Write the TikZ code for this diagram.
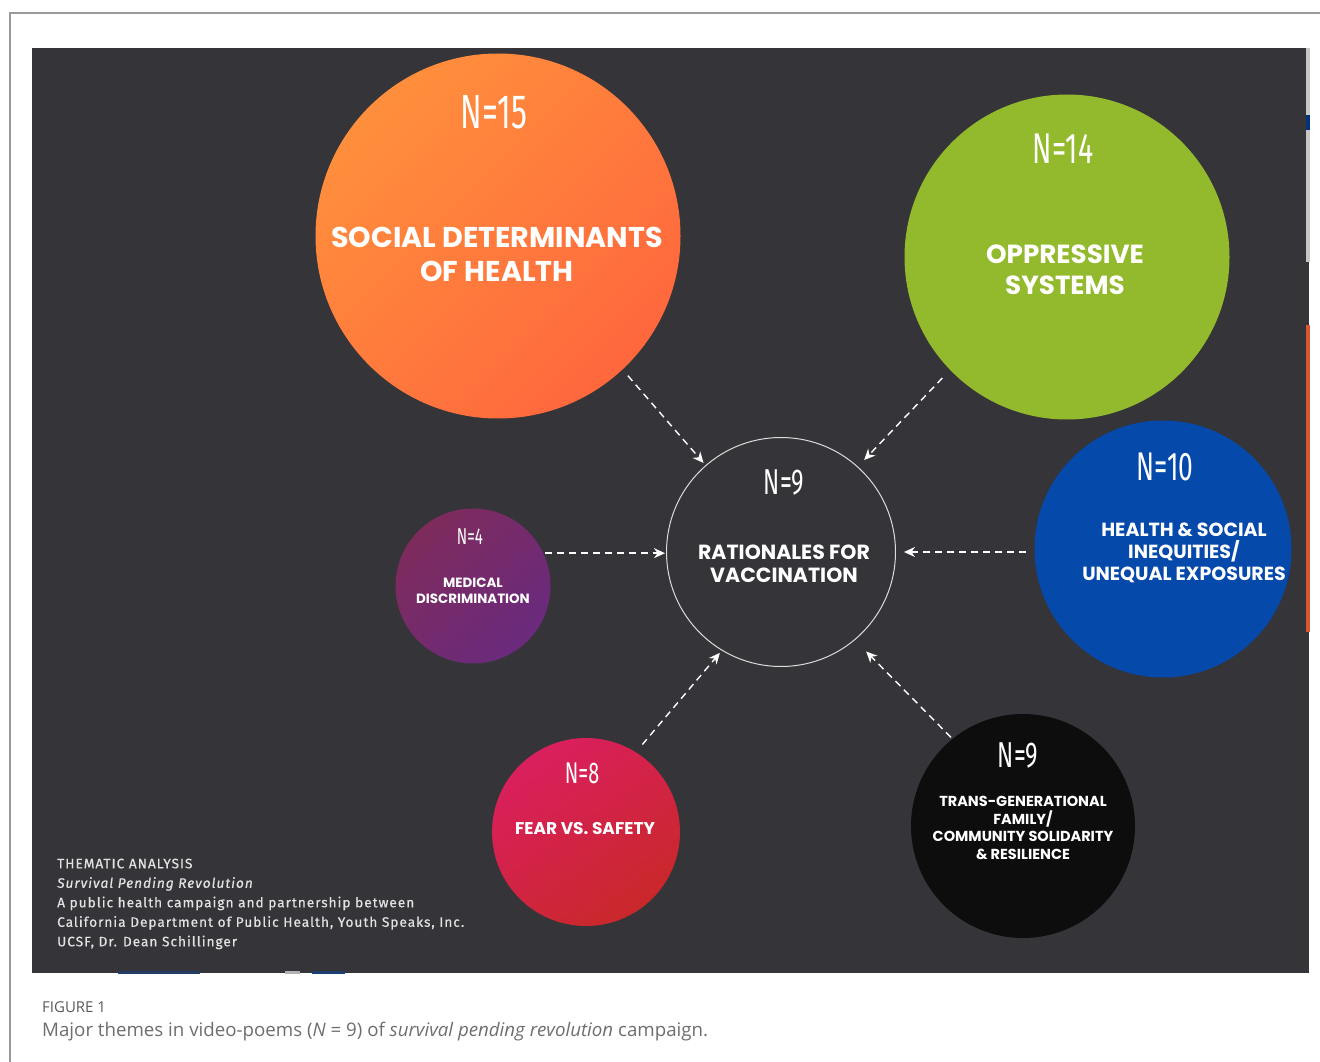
\documentclass[tikz,border=0pt]{standalone}
\usepackage{fontspec}
\usetikzlibrary{arrows.meta}
\setmainfont{Poppins}
\newfontfamily\numfont[FakeStretch=0.66]{Fira Sans}
\newfontfamily\notefont[LetterSpace=7,FakeBold=0.5]{Fira Sans}
\newfontfamily\capfont{Open Sans}

\definecolor{panel}{HTML}{353438}
\definecolor{framegray}{HTML}{9A9A9A}
\definecolor{orangeA}{HTML}{FF8F3C}
\definecolor{orangeB}{HTML}{FF673D}
\definecolor{greenC}{HTML}{93B92C}
\definecolor{blueC}{HTML}{0549AA}
\definecolor{purpleA}{HTML}{7E2B5C}
\definecolor{purpleB}{HTML}{6A2A7D}
\definecolor{redA}{HTML}{DA1F5E}
\definecolor{redB}{HTML}{C9282A}
\definecolor{blackC}{HTML}{0D0D0D}
\definecolor{ringC}{HTML}{DCDCDC}
\definecolor{noteC}{HTML}{E2E2E2}
\definecolor{capA}{HTML}{5A5A5A}
\definecolor{capB}{HTML}{6E6E6E}

\tikzset{
  bubble/.style={circle, inner sep=0pt, draw=none},
  count/.style={text=white, inner sep=0pt},
  theme/.style={text=white, inner sep=0pt, align=center, font=\bfseries},
  feed/.style={draw=white, line width=1.4pt, dash pattern=on 7pt off 5pt,
    -{Stealth[length=11pt,width=10pt]}},
}

\newcommand{\fsz}[2]{\fontsize{#1}{#2}\selectfont}

\begin{document}
\begin{tikzpicture}[x=1pt,y=-1pt]
\useasboundingbox (0,0) rectangle (1320,1062);
\fill[white] (0,0) rectangle (1320,1062);

% page frame and dark slide panel
\draw[framegray, line width=1.5pt] (10,1062) -- (10,13) -- (1320,13);
\fill[panel] (32,48) rectangle (1309,973);

% slivers along the slide edges
\fill[gray!45] (1306,48) rectangle (1310,115);
\fill[blueC!70!black] (1306,115) rectangle (1310,130);
\fill[gray!45] (1306,130) rectangle (1310,262);
\fill[orangeB!85!black] (1306,325) rectangle (1310,632);
\fill[blueC!40!panel] (118,971) rectangle (200,974);
\fill[gray!60] (285,971) rectangle (300,974);
\fill[blueC!50!panel] (312,971) rectangle (345,974);

% theme bubbles
\node[bubble, minimum size=365pt, top color=orangeA, bottom color=orangeB, shading angle=45] (sdoh) at (498,236) {};
\node[bubble, minimum size=325pt, fill=greenC] (opp) at (1067,257) {};
\node[bubble, minimum size=257pt, fill=blueC] (ineq) at (1163,549) {};
\node[bubble, minimum size=229pt, draw=ringC, line width=1pt] (vacc) at (781,552) {};
\node[bubble, minimum size=155pt, top color=purpleA, bottom color=purpleB, shading angle=45] (med) at (473,586) {};
\node[bubble, minimum size=188pt, top color=redA, bottom color=redB, shading angle=35] (fear) at (586,832) {};
\node[bubble, minimum size=224pt, fill=blackC] (fam) at (1023,826) {};

% counts
\node[count, font=\numfont\fsz{48}{48}] (sdohN) at (494,112) {N=15};
\node[count, font=\numfont\fsz{43}{43}] (oppN) at (1063,149) {N=14};
\node[count, font=\numfont\fsz{40}{40}] (ineqN) at (1165,467) {N=10};
\node[count, font=\numfont\fsz{36}{36}] (vaccN) at (784,482) {N=9};
\node[count, font=\numfont\fsz{23}{23}] (medN) at (470,537) {N=4};
\node[count, font=\numfont\fsz{30}{30}] (fearN) at (582,773) {N=8};
\node[count, font=\numfont\fsz{36}{36}] (famN) at (1018,755) {N=9};

% theme titles
\node[theme, font=\bfseries\fsz{28.6}{34}] (sdohT) at (497,254) {SOCIAL DETERMINANTS\\OF HEALTH};
\node[theme, font=\bfseries\fsz{26.2}{31}] (oppT) at (1065,270) {OPPRESSIVE\\SYSTEMS};
\node[theme, font=\bfseries\fsz{19}{22}] (ineqT) at (1184,553) {HEALTH \& SOCIAL\\INEQUITIES/\\UNEQUAL EXPOSURES};
\node[theme, font=\bfseries\fsz{20.5}{23}] (vaccT) at (784,564) {RATIONALES FOR\\VACCINATION};
\node[theme, font=\bfseries\fsz{13.4}{16}] (medT) at (473,591) {MEDICAL\\DISCRIMINATION};
\node[theme, font=\bfseries\fsz{17}{18}] (fearT) at (585,829) {FEAR VS. SAFETY};
\node[theme, font=\bfseries\fsz{14.5}{17.7}] (famT) at (1023,828) {TRANS-GENERATIONAL\\FAMILY/\\COMMUNITY SOLIDARITY\\\& RESILIENCE};

% dashed feeds into the central theme
\draw[feed, shorten <=8pt, shorten >=3pt] (sdoh.313) -- (vacc.131);
\draw[feed, shorten <=11pt, shorten >=9pt] (opp.224) -- (vacc.48);
\draw[feed, shorten <=2pt, shorten >=1pt] (med.25) -- (vacc.west |- med.25);
\draw[feed, shorten <=8pt, shorten >=8pt] (ineq.west |- vacc.east) -- (vacc.east);
\draw[feed, shorten <=10pt, shorten >=3pt] (fear.58) -- (vacc.239);
\draw[feed, shorten <=2pt, shorten >=16pt] (fam.129) -- (vacc.310);

% credits in the slide corner
\node[anchor=north west, align=left, text=noteC, inner sep=0pt,
      font=\notefont\fsz{13.7}{19.5}] (credits) at (57,858.5)
  {THEMATIC ANALYSIS\\
   \textit{Survival Pending Revolution}\\
   A public health campaign and partnership between\\
   California Department of Public Health, Youth Speaks, Inc.\\
   UCSF, Dr. Dean Schillinger};

% figure caption
\node[anchor=base west, inner sep=0pt, text=capA, font=\capfont\fsz{15}{16}] (figno) at (42,1012) {FIGURE 1};
\node[anchor=base west, inner sep=0pt, text=capB, font=\capfont\fsz{18.7}{20}] (figcap) at (42,1036)
  {Major themes in video-poems ({\itshape N} = 9) of \textit{survival pending revolution} campaign.};
\end{tikzpicture}
\end{document}
